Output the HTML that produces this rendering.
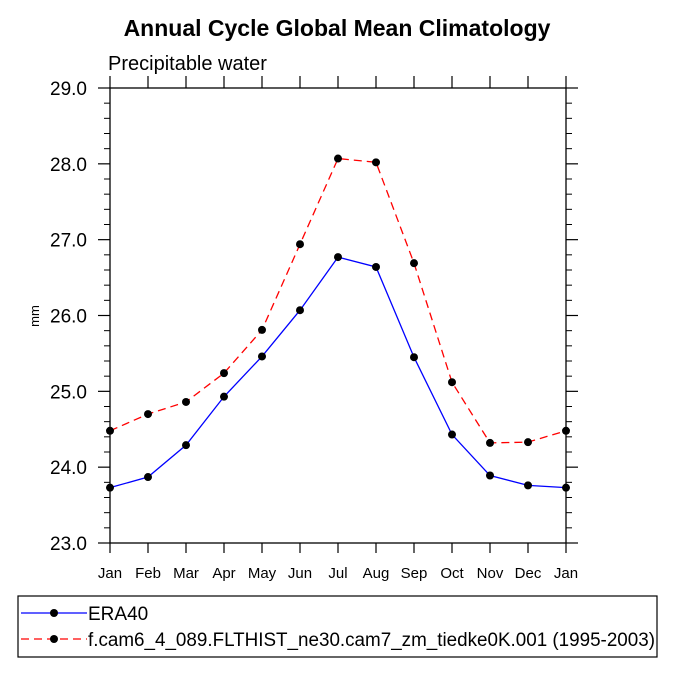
<!DOCTYPE html>
<html><head><meta charset="utf-8"><style>body{margin:0;background:#fff}svg{display:block;font-family:"Liberation Sans",Helvetica,sans-serif}</style></head>
<body>
<svg id="chart" width="675" height="675" viewBox="0 0 675 675">
<text x="337" y="36" text-anchor="middle" font-size="23" font-weight="bold">Annual Cycle Global Mean Climatology</text>
<text x="108" y="70" font-size="20">Precipitable water</text>
<text transform="translate(39,316) rotate(-90)" text-anchor="middle" font-size="13">mm</text>
<g id="axes"></g><g id="series"></g>
<rect x="18" y="596" width="639" height="61" fill="none" stroke="#000" stroke-width="1.2"/>
<g>
<line x1="21" y1="613" x2="87" y2="613" stroke="#00f" stroke-width="1.3"/><circle cx="54" cy="613" r="4" fill="#000"/>
<text x="88" y="620" font-size="19">ERA40</text></g>
<g>
<line x1="21" y1="639" x2="87" y2="639" stroke="#f00" stroke-width="1.3" stroke-dasharray="8,5"/><circle cx="54" cy="639" r="4" fill="#000"/>
<text x="88" y="646" font-size="19" textLength="567" lengthAdjust="spacingAndGlyphs">f.cam6_4_089.FLTHIST_ne30.cam7_zm_tiedke0K.001 (1995-2003)</text></g>
</svg>
<script>
const months=["Jan","Feb","Mar","Apr","May","Jun","Jul","Aug","Sep","Oct","Nov","Dec","Jan"];
const era40=[23.73,23.87,24.29,24.93,25.46,26.07,26.77,26.64,25.45,24.43,23.89,23.76,23.73];
const model=[24.48,24.70,24.86,25.24,25.81,26.94,28.07,28.02,26.69,25.12,24.32,24.33,24.48];
const yTicks=[23,24,25,26,27,28,29];
const NS="http://www.w3.org/2000/svg";
const L=110,R=566,T=88,B=543,ymin=23,ymax=29;
const xs=i=>L+(R-L)*i/(months.length-1);
const ys=v=>B-(v-ymin)/(ymax-ymin)*(B-T);
function mk(tag,at,p){const e=document.createElementNS(NS,tag);for(const k in at)e.setAttribute(k,at[k]);p.appendChild(e);return e;}
const ax=document.getElementById('axes');
const fr=mk('rect',{x:L,y:T,width:R-L,height:B-T,fill:'none',stroke:'#000','stroke-width':1.3},ax);


months.forEach((m,i)=>{const x=xs(i);
mk('line',{x1:x,y1:B,x2:x,y2:B+10,stroke:'#000','stroke-width':1.2},ax);
mk('line',{x1:x,y1:T,x2:x,y2:T-12,stroke:'#000','stroke-width':1.2},ax);
const t=mk('text',{x:x,y:B+35,'text-anchor':'middle','font-size':15},ax);t.textContent=m;

});
for(let v=ymin;v<=ymax+1e-9;v+=0.2){const y=ys(v);const major=Math.abs(v-Math.round(v))<1e-6;
if(major){mk('line',{x1:L-12,y1:y,x2:L,y2:y,stroke:'#000','stroke-width':1.2},ax);mk('line',{x1:R,y1:y,x2:R+12,y2:y,stroke:'#000','stroke-width':1.2},ax);}
else{mk('line',{x1:L-6,y1:y,x2:L,y2:y,stroke:'#000','stroke-width':1},ax);mk('line',{x1:R,y1:y,x2:R+6,y2:y,stroke:'#000','stroke-width':1},ax);}}
yTicks.forEach(v=>{const t=mk('text',{x:L-23,y:ys(v)+7,'text-anchor':'end','font-size':19},ax);t.textContent=v.toFixed(1);

});
const sg=document.getElementById('series');
function series(d,col,dash,name){const g=mk('g',{},sg);


mk('polyline',{points:d.map((v,i)=>xs(i)+','+ys(v)).join(' '),fill:'none',stroke:col,'stroke-width':1.3,'stroke-dasharray':dash},g);
d.forEach((v,i)=>{const c=mk('circle',{cx:xs(i),cy:ys(v),r:4,fill:'#000'},g);

});}
series(model,'#f00','8,5','series-model');
series(era40,'#00f','none','series-era40');
</script>
</body></html>
